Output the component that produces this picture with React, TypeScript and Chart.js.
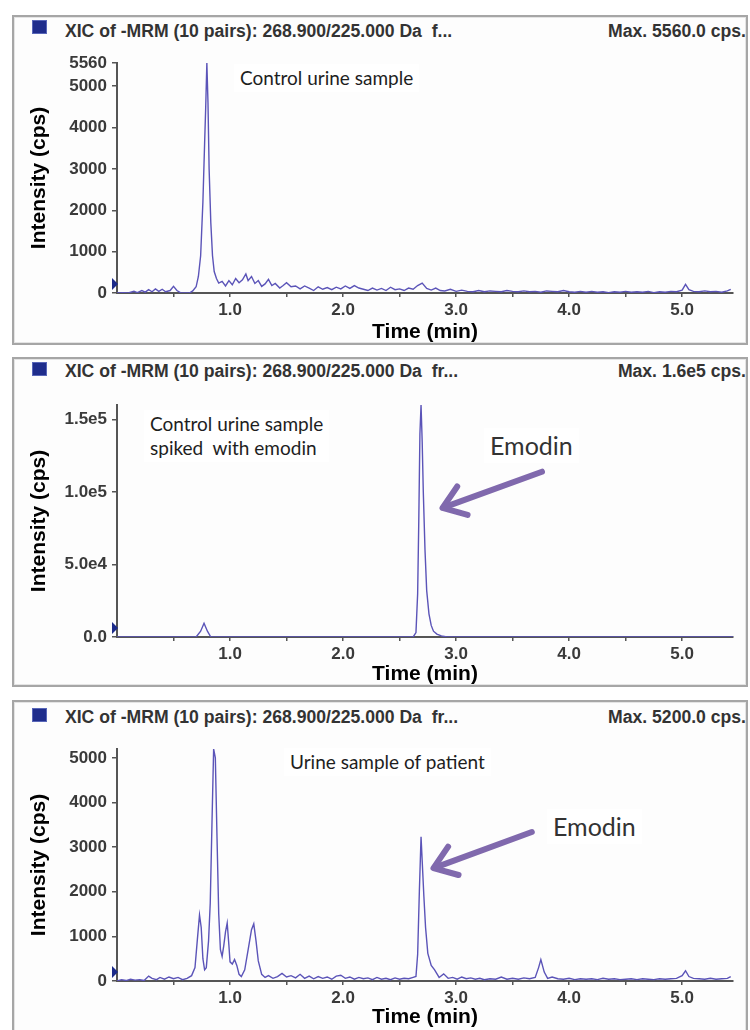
import React, { useEffect, useRef } from "react";
import { Chart, registerables } from "chart.js";

Chart.register(...registerables);

// ---------------- data ----------------
const time1 = [
  0.0, 0.05, 0.1, 0.15, 0.18, 0.22, 0.25, 0.28, 0.31, 0.34, 0.37, 0.4, 0.43, 0.47, 0.5, 0.53, 0.56, 0.6, 0.64, 0.67,
  0.7, 0.72, 0.74, 0.76, 0.775, 0.785, 0.795, 0.805, 0.815, 0.83, 0.845, 0.86, 0.88, 0.9, 0.93, 0.96, 0.99, 1.02,
  1.05, 1.08, 1.11, 1.14, 1.16, 1.19, 1.22, 1.25, 1.28, 1.31, 1.34, 1.37, 1.4, 1.44, 1.47, 1.5, 1.54, 1.58, 1.62,
  1.66, 1.7, 1.74, 1.78, 1.82, 1.86, 1.9, 1.94, 1.98, 2.02, 2.06, 2.1, 2.14, 2.18, 2.22, 2.26, 2.3, 2.34, 2.38, 2.42,
  2.46, 2.5, 2.54, 2.58, 2.62, 2.66, 2.7, 2.74, 2.78, 2.82, 2.86, 2.9, 2.95, 3.0, 3.05, 3.1, 3.15, 3.2, 3.25, 3.3,
  3.35, 3.4, 3.45, 3.5, 3.55, 3.6, 3.65, 3.7, 3.75, 3.8, 3.85, 3.9, 3.95, 4.0, 4.05, 4.1, 4.15, 4.2, 4.25, 4.3, 4.35,
  4.4, 4.45, 4.5, 4.55, 4.6, 4.65, 4.7, 4.75, 4.8, 4.85, 4.9, 4.95, 5.0, 5.03, 5.06, 5.1, 5.15, 5.2, 5.25, 5.3, 5.35,
  5.4, 5.43,
];
const intensity1 = [
  0, 10, 0, 40, 10, 60, 20, 80, 30, 100, 40, 90, 30, 60, 160, 60, 10, 0, 0, 50,
  150, 400, 900, 2200, 3600, 4500, 5560, 4600, 3000, 1700, 900, 520, 350, 240, 280, 170, 300, 200,
  350, 250, 320, 460, 300, 400, 230, 300, 160, 220, 330, 180, 230, 120, 180, 250, 150, 170, 100,
  170, 120, 60, 150, 90, 130, 80, 140, 100, 170, 110, 180, 120, 90, 60, 120, 70, 110, 60, 140,
  80, 100, 60, 120, 90, 180, 240, 110, 70, 120, 60, 50, 90, 40, 70, 40, 30, 60, 30, 50,
  40, 30, 60, 40, 30, 50, 30, 40, 20, 50, 40, 30, 60, 30, 20, 40, 20, 40, 20, 30, 10,
  30, 20, 40, 20, 30, 20, 40, 10, 30, 20, 40, 30, 70, 210, 80, 40, 30, 50, 30, 40, 20,
  50, 90,
];

const time2 = [
  0.0, 0.2, 0.4, 0.6, 0.7, 0.74, 0.77, 0.8, 0.83, 1.0, 1.5, 2.0, 2.5, 2.62, 2.645, 2.66, 2.67, 2.68, 2.69, 2.7,
  2.71, 2.725, 2.74, 2.76, 2.78, 2.8, 2.83, 2.87, 2.92, 3.5, 4.0, 4.5, 5.0, 5.45,
];
const intensity2 = [
  0, 0, 0, 0, 0, 4000, 9500, 4000, 0, 0, 0, 0, 0, 0, 3000, 30000, 80000, 140000, 160000, 135000,
  100000, 60000, 32000, 16000, 8000, 4000, 2000, 800, 0, 0, 0, 0, 0, 0,
];

const time3 = [
  0.0, 0.04, 0.08, 0.12, 0.16, 0.2, 0.24, 0.28, 0.31, 0.35, 0.38, 0.42, 0.46, 0.5, 0.54, 0.58, 0.62, 0.66, 0.69,
  0.71, 0.73, 0.745, 0.76, 0.775, 0.79, 0.81, 0.825, 0.84, 0.855, 0.87, 0.885, 0.9, 0.915, 0.93, 0.945, 0.96, 0.975,
  0.99, 1.0, 1.02, 1.04, 1.06, 1.08, 1.1, 1.13, 1.16, 1.19, 1.21, 1.23, 1.25, 1.28, 1.31, 1.34, 1.38, 1.42, 1.46,
  1.5, 1.54, 1.58, 1.62, 1.66, 1.7, 1.74, 1.78, 1.82, 1.86, 1.9, 1.94, 1.98, 2.02, 2.06, 2.1, 2.14, 2.18, 2.22,
  2.26, 2.3, 2.34, 2.38, 2.42, 2.46, 2.5, 2.54, 2.58, 2.62, 2.645, 2.66, 2.675, 2.69, 2.7, 2.715, 2.73, 2.75, 2.78,
  2.81, 2.85, 2.89, 2.93, 2.97, 3.01, 3.05, 3.09, 3.13, 3.17, 3.21, 3.25, 3.3, 3.35, 3.4, 3.45, 3.5, 3.55, 3.6,
  3.65, 3.7, 3.73, 3.75, 3.78, 3.81, 3.85, 3.9, 3.95, 4.0, 4.05, 4.1, 4.15, 4.2, 4.25, 4.3, 4.35, 4.4, 4.45, 4.5,
  4.55, 4.6, 4.65, 4.7, 4.75, 4.8, 4.85, 4.9, 4.95, 5.0, 5.03, 5.06, 5.1, 5.15, 5.2, 5.25, 5.3, 5.35, 5.4, 5.43,
];
const intensity3 = [
  0, 30, 10, 40, 20, 30, 10, 110, 60, 30, 80, 40, 90, 50, 80, 30, 60, 120, 300,
  900, 1480, 1200, 500, 250, 300, 900, 1750, 3500, 5200, 5000, 3200, 1500, 700, 550, 800, 1100, 1300,
  800, 430, 380, 480, 350, 150, 100, 250, 700, 1150, 1280, 900, 450, 150, 80, 120, 60, 100, 170,
  90, 120, 70, 150, 60, 110, 50, 100, 60, 90, 40, 110, 130, 60, 90, 40, 80, 50, 70,
  30, 80, 40, 60, 30, 70, 40, 60, 50, 80, 100, 600, 2000, 3230, 2700, 1900, 1200, 620, 350,
  250, 80, 160, 60, 80, 40, 90, 50, 70, 40, 60, 30, 50, 40, 90, 40, 60, 40, 70,
  50, 80, 300, 480, 200, 60, 90, 50, 40, 60, 30, 50, 40, 50, 30, 60, 40, 50, 30, 40,
  50, 30, 50, 40, 30, 50, 40, 50, 60, 120, 230, 100, 60, 50, 40, 60, 40, 50, 60, 100,
];

const xMajorTicks = [1, 2, 3, 4, 5];
const xMajorLabels = ["1.0", "2.0", "3.0", "4.0", "5.0"];
const xMinorTicks = [0.5, 1.5, 2.5, 3.5, 4.5];
const xMax = 5.45;

const yTicks1 = [0, 1000, 2000, 3000, 4000, 5000, 5560];
const yLabels1 = ["0", "1000", "2000", "3000", "4000", "5000", "5560"];
const yTicks2 = [0, 50000, 100000, 150000];
const yLabels2 = ["0.0", "5.0e4", "1.0e5", "1.5e5"];
const yTicks3 = [0, 1000, 2000, 3000, 4000, 5000];
const yLabels3 = ["0", "1000", "2000", "3000", "4000", "5000"];
const yMax1 = 5560;
const yMax2 = 160000;
const yMax3 = 5200;

const headerTexts = [
  "XIC of -MRM (10 pairs): 268.900/225.000 Da  f...",
  "XIC of -MRM (10 pairs): 268.900/225.000 Da  fr...",
  "XIC of -MRM (10 pairs): 268.900/225.000 Da  fr...",
];
const maxTexts = ["Max. 5560.0 cps.", "Max. 1.6e5 cps.", "Max. 5200.0 cps."];
const xTitle = "Time (min)";
const yTitle = "Intensity (cps)";
const note1 = ["Control urine sample"];
const note2 = ["Control urine sample", "spiked  with emodin"];
const note3 = ["Urine sample of patient"];
const arrowLabel = "Emodin";
// arrows: tail (time, cps) -> head (time, cps)
const arrow2 = [3.76, 114000, 2.88, 89000];
const arrow3 = [3.67, 3340, 2.8, 2530];

// ---------------- chart ----------------
const FONT = "'Liberation Sans', Arial, sans-serif";
const NOTE_FONT = "Lato, 'Open Sans', sans-serif";

type ChartProps = {
  width: number;
  height: number;
  areaTop: number;
  areaBottom: number;
  areaLeft: number;
  areaRight: number;
  time: number[];
  intensity: number[];
  ymax: number;
  yTicks: number[];
  yLabels: string[];
  arrow?: number[];
};

function XicChart(p: ChartProps) {
  const ref = useRef<HTMLCanvasElement>(null);
  useEffect(() => {
    const canvas = ref.current;
    if (!canvas) return;
    const xTicks = [...xMinorTicks, ...xMajorTicks].sort((a, b) => a - b);
    const font = (size: number) => ({ family: FONT, size, weight: "bold" as const });
    const overlay = {
      id: "overlay",
      afterDatasetsDraw(chart: any) {
        const { ctx, chartArea, scales } = chart;
        const xs = scales.x;
        const ys = scales.y;
        ctx.save();
        const ty = ys.getPixelForValue(0) - 9;
        ctx.fillStyle = "#1b2a8a";
        ctx.beginPath();
        ctx.moveTo(chartArea.left - 5, ty - 6);
        ctx.lineTo(chartArea.left + 1, ty);
        ctx.lineTo(chartArea.left - 5, ty + 6);
        ctx.closePath();
        ctx.fill();
        if (p.arrow) {
          const a = p.arrow;
          const x1 = xs.getPixelForValue(a[0]);
          const y1 = ys.getPixelForValue(a[1]);
          const x2 = xs.getPixelForValue(a[2]);
          const y2 = ys.getPixelForValue(a[3]);
          const ang = Math.atan2(y2 - y1, x2 - x1);
          ctx.strokeStyle = "#8069ad";
          ctx.lineWidth = 6;
          ctx.lineCap = "round";
          ctx.lineJoin = "round";
          ctx.beginPath();
          ctx.moveTo(x1, y1);
          ctx.lineTo(x2 - 3 * Math.cos(ang), y2 - 3 * Math.sin(ang));
          ctx.stroke();
          const L = 26;
          const w = 0.62;
          ctx.beginPath();
          ctx.moveTo(x2 - L * Math.cos(ang - w), y2 - L * Math.sin(ang - w));
          ctx.lineTo(x2, y2);
          ctx.lineTo(x2 - L * Math.cos(ang + w), y2 - L * Math.sin(ang + w));
          ctx.stroke();
        }
        ctx.restore();
      },
    };
    const chart = new Chart(canvas, {
      type: "line",
      data: {
        datasets: [
          {
            data: p.time.map((t, i) => ({ x: t, y: p.intensity[i] })),
            borderColor: "#5b54b8",
            borderWidth: 1.4,
            pointRadius: 0,
            tension: 0,
            fill: false,
          },
        ],
      },
      options: {
        animation: false,
        responsive: false,
        events: [],
        layout: { padding: { top: p.areaTop, right: p.width - p.areaRight, left: 0, bottom: 0 } },
        plugins: { legend: { display: false }, tooltip: { enabled: false } },
        scales: {
          x: {
            type: "linear",
            min: 0,
            max: xMax,
            afterBuildTicks: (s: any) => {
              s.ticks = xTicks.map((v) => ({ value: v }));
            },
            afterFit: (s: any) => {
              s.height = p.height - p.areaBottom;
            },
            ticks: {
              autoSkip: false,
              maxRotation: 0,
              padding: 3,
              color: "#3a3a3a",
              font: font(17),
              callback: (v: any) => {
                const idx = xMajorTicks.indexOf(Number(v));
                return idx >= 0 ? xMajorLabels[idx] : "";
              },
            },
            grid: { drawOnChartArea: false, drawTicks: true, tickLength: 4, color: "#555", lineWidth: 1.5 },
            border: { display: true, color: "#555", width: 2 },
            title: { display: true, text: xTitle, color: "#000", font: font(21), padding: { top: 0, bottom: 0 } },
          },
          y: {
            type: "linear",
            min: 0,
            max: p.ymax,
            afterBuildTicks: (s: any) => {
              s.ticks = p.yTicks.map((v) => ({ value: v }));
            },
            afterFit: (s: any) => {
              s.width = p.areaLeft;
            },
            ticks: {
              autoSkip: false,
              padding: 5,
              color: "#3a3a3a",
              font: font(17),
              callback: (v: any) => {
                const idx = p.yTicks.indexOf(Number(v));
                return idx >= 0 ? p.yLabels[idx] : "";
              },
            },
            grid: { drawOnChartArea: false, drawTicks: true, tickLength: 5, color: "#555", lineWidth: 1.5 },
            border: { display: true, color: "#555", width: 2 },
            title: { display: true, text: yTitle, color: "#000", font: font(21), padding: { top: 15, bottom: 0 } },
          },
        },
      },
      plugins: [overlay],
    } as any);
    return () => chart.destroy();
  }, []);
  return (
    <canvas
      ref={ref}
      width={p.width}
      height={p.height}
      style={{ position: "absolute", left: 0, top: 0, width: p.width, height: p.height }}
    />
  );
}

type PanelProps = {
  top: number;
  frameHeight: number;
  header: string;
  maxText: string;
  squareTop: number;
  headerTop: number;
  chart: ChartProps;
  children?: React.ReactNode;
};

function Panel(p: PanelProps) {
  return (
    <div style={{ position: "absolute", left: 12, top: p.top, width: 736, height: p.frameHeight }}>
      <div
        style={{
          position: "absolute",
          left: 0,
          top: 0,
          width: 736,
          height: p.frameHeight,
          boxSizing: "border-box",
          border: "2px solid #a6a6a6",
          boxShadow: "inset 0 0 0 1px #e4e4e4",
          background: "#fdfdfd",
        }}
      />
      <div
        style={{
          position: "absolute",
          left: 20,
          top: p.squareTop,
          width: 15,
          height: 14,
          boxSizing: "border-box",
          background: "#1f2d8c",
          border: "1px solid #5866b8",
        }}
      />
      <div
        style={{
          position: "absolute",
          left: 53,
          top: p.headerTop,
          font: `bold 17.6px ${FONT}`,
          lineHeight: "20px",
          color: "#333",
          whiteSpace: "pre",
        }}
      >
        {p.header}
      </div>
      <div
        style={{
          position: "absolute",
          right: 2,
          top: p.headerTop,
          font: `bold 17.6px ${FONT}`,
          lineHeight: "20px",
          color: "#333",
          whiteSpace: "pre",
        }}
      >
        {p.maxText}
      </div>
      <XicChart {...p.chart} />
      {p.children}
    </div>
  );
}

function Note({ left, top, lines, size, color }: { left: number; top: number; lines: string[]; size: number; color?: string }) {
  return (
    <div
      style={{
        position: "absolute",
        left,
        top,
        font: `${size}px ${NOTE_FONT}`,
        lineHeight: `${Math.round(size * 1.25)}px`,
        color: color || "#1e1e1e",
        whiteSpace: "pre",
        background: "#ffffff",
        padding: "2px 6px",
      }}
    >
      {lines.map((l, i) => (
        <div key={i}>{l}</div>
      ))}
    </div>
  );
}

export default function App() {
  return (
    <div style={{ position: "absolute", left: 0, top: 0, width: 750, height: 1030, overflow: "hidden", background: "#ffffff" }}>
      <Panel
        top={15}
        frameHeight={330}
        header={headerTexts[0]}
        maxText={maxTexts[0]}
        squareTop={5}
        headerTop={6}
        chart={{
          width: 736,
          height: 330,
          areaTop: 48,
          areaBottom: 278,
          areaLeft: 105,
          areaRight: 721,
          time: time1,
          intensity: intensity1,
          ymax: yMax1,
          yTicks: yTicks1,
          yLabels: yLabels1,
        }}
      >
        <Note left={222} top={49} lines={note1} size={19} />
      </Panel>
      <Panel
        top={357}
        frameHeight={330}
        header={headerTexts[1]}
        maxText={maxTexts[1]}
        squareTop={5}
        headerTop={4}
        chart={{
          width: 736,
          height: 330,
          areaTop: 48,
          areaBottom: 280,
          areaLeft: 105,
          areaRight: 721,
          time: time2,
          intensity: intensity2,
          ymax: yMax2,
          yTicks: yTicks2,
          yLabels: yLabels2,
          arrow: arrow2,
        }}
      >
        <Note left={132} top={53} lines={note2} size={19} />
        <Note left={472} top={71} lines={[arrowLabel]} size={25} color="#333" />
      </Panel>
      <Panel
        top={700}
        frameHeight={340}
        header={headerTexts[2]}
        maxText={maxTexts[2]}
        squareTop={8}
        headerTop={7}
        chart={{
          width: 736,
          height: 330,
          areaTop: 49,
          areaBottom: 281,
          areaLeft: 105,
          areaRight: 721,
          time: time3,
          intensity: intensity3,
          ymax: yMax3,
          yTicks: yTicks3,
          yLabels: yLabels3,
          arrow: arrow3,
        }}
      >
        <Note left={272} top={48} lines={note3} size={19} />
        <Note left={535} top={109} lines={[arrowLabel]} size={25} color="#333" />
      </Panel>
    </div>
  );
}
